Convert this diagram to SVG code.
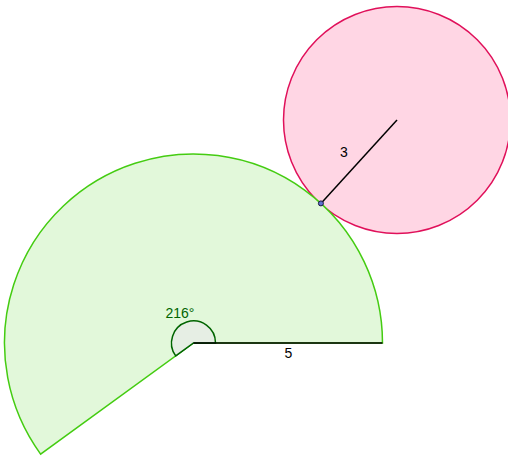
<svg xmlns="http://www.w3.org/2000/svg" width="508" height="458" viewBox="0 0 508 458">
<style>
.lbl{font-family:"Liberation Sans",Arial,sans-serif;font-size:14px}
</style>
<rect width="508" height="458" fill="#ffffff"/>
<g id="circle">
<circle cx="397" cy="120" r="113.5" fill="#ffd6e4" stroke="#e0105a" stroke-width="1.5"/>
</g>
<g id="sector">
<path d="M193.5 343 L382.5 343 A189 189 0 1 0 40.6 454.1 Z" fill="#e0f8d8" fill-opacity="0.95" stroke="#44cc11" stroke-width="1.5"/>
</g>
<g id="angle">
<path d="M193.5 343 L215.5 343 A22 22 0 1 0 175.7 355.9 Z" fill="#e6eee4" stroke="#006400" stroke-width="1.5"/>
<text class="lbl" x="165.5" y="318" fill="#006400">216°</text>
</g>
<g id="connectors">
<line x1="193.5" y1="343" x2="382.5" y2="343" stroke="#000000" stroke-width="1.5"/>
<line x1="320.9" y1="203.4" x2="397" y2="120" stroke="#000000" stroke-width="1.5"/>
</g>
<g id="point">
<circle cx="320.9" cy="203.4" r="2.5" fill="#6070d0" stroke="#1a1a40" stroke-width="1"/>
</g>
<g id="labels">
<text class="lbl" x="340" y="156.5" fill="#000000">3</text>
<text class="lbl" x="284.5" y="358" fill="#000000">5</text>
</g>
</svg>
